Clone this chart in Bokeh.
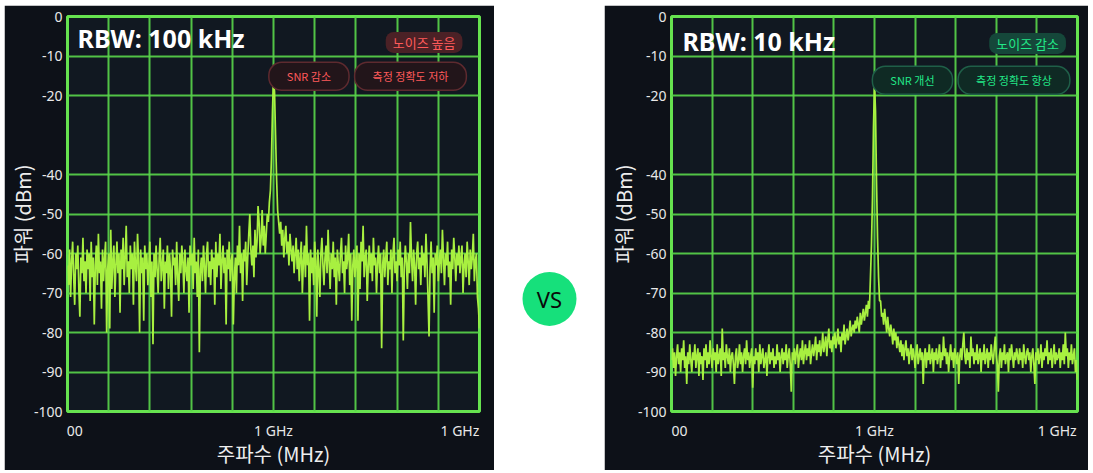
import numpy as np
from bokeh.plotting import figure
from bokeh.models import FixedTicker, Label, Spacer
from bokeh.layouts import row, column
from bokeh.embed import file_html
from bokeh.resources import INLINE

# ---------------- data ----------------
freq_mhz = np.round(np.linspace(990, 1010, 401), 3)

power_rbw100k = [
    -63, -68, -59, -71, -62, -57, -66, -73, -60, -64, -58, -69, -76, -61, -65, -56, -67, -62, -70, -59,
    -64, -60, -72, -57, -66, -61, -78, -63, -58, -68, -55, -65, -62, -74, -59, -67, -61, -57, -80, -64,
    -60, -79, -54, -69, -62, -58, -71, -63, -57, -65, -60, -75, -59, -64, -56, -68, -61, -53, -66, -62,
    -70, -58, -64, -60, -73, -57, -63, -67, -55, -62, -80, -59, -65, -61, -77, -58, -64, -60, -68, -63,
    -57, -71, -62, -83, -60, -66, -58, -64, -70, -61, -56, -67, -63, -59, -74, -62, -65, -58, -69, -60,
    -64, -76, -59, -63, -61, -68, -57, -66, -72, -60, -65, -58, -62, -70, -59, -64, -67, -61, -75, -58,
    -63, -60, -69, -56, -65, -62, -71, -59, -85, -64, -61, -67, -58, -63, -70, -60, -57, -66, -62, -68,
    -59, -64, -61, -73, -57, -66, -60, -63, -55, -69, -62, -58, -65, -61, -78, -59, -64, -57, -67, -62,
    -60, -78, -66, -61, -70, -58, -63, -53, -65, -60, -72, -59, -62, -57, -68, -61, -55, -50, -59, -63,
    -58, -66, -54, -61, -57, -48, -52, -60, -56, -49, -58, -53, -60, -55, -50, -52, -47, -44, -36, -24,
    -15.5,
    -19, -30, -41, -49, -52, -55, -52, -58, -54, -61, -56, -53, -60, -57, -63, -55, -59, -62, -58, -65,
    -60, -56, -64, -59, -67, -61, -57, -70, -62, -58, -66, -53, -63, -60, -77, -59, -65, -61, -68, -57,
    -62, -76, -59, -64, -71, -60, -56, -63, -68, -61, -58, -65, -54, -62, -69, -60, -64, -57, -66, -61,
    -73, -59, -63, -67, -60, -56, -65, -62, -70, -58, -64, -61, -55, -68, -60, -77, -63, -59, -66, -62,
    -58, -77, -60, -69, -57, -62, -53, -66, -61, -59, -72, -63, -58, -65, -60, -67, -56, -63, -61, -70,
    -62, -58, -65, -60, -84, -63, -59, -66, -61, -57, -68, -62, -64, -59, -70, -60, -56, -65, -62, -67,
    -59, -63, -57, -66, -61, -82, -64, -58, -62, -69, -60, -65, -52, -61, -67, -59, -63, -73, -60, -57,
    -64, -61, -68, -58, -63, -60, -66, -55, -62, -71, -81, -64, -57, -65, -61, -75, -60, -63, -58, -67,
    -62, -59, -65, -54, -61, -68, -60, -63, -57, -66, -62, -73, -59, -64, -56, -61, -67, -60, -63, -58,
    -65, -61, -58, -70, -63, -60, -66, -57, -62, -68, -59, -64, -61, -55, -67, -62, -60, -71, -74, -79,
]

power_rbw10k = [
    -87, -84, -89, -85, -91, -86, -83, -88, -85, -90, -84, -87, -82, -89, -86, -93, -85, -88, -83, -87,
    -90, -85, -87, -83, -89, -86, -84, -91, -85, -88, -86, -92, -84, -87, -83, -89, -85, -88, -82, -86,
    -89, -84, -87, -85, -90, -83, -88, -86, -84, -91, -79, -87, -85, -89, -83, -86, -88, -84, -90, -86,
    -85, -88, -93, -86, -84, -89, -87, -83, -88, -85, -90, -86, -84, -88, -82, -87, -85, -89, -86, -84,
    -94, -86, -88, -84, -87, -85, -90, -83, -88, -86, -84, -89, -87, -85, -91, -86, -83, -88, -85, -87,
    -84, -89, -86, -88, -83, -87, -85, -90, -86, -84, -88, -85, -87, -83, -89, -86, -84, -88, -95, -85,
    -87, -84, -88, -85, -83, -89, -86, -84, -87, -82, -88, -85, -83, -87, -84, -86, -82, -88, -85, -83,
    -86, -84, -81, -87, -83, -85, -82, -86, -84, -80, -85, -83, -81, -86, -82, -79, -84, -82, -85, -81,
    -83, -80, -84, -82, -79, -83, -81, -85, -80, -82, -78, -83, -81, -79, -82, -80, -77, -81, -79, -78,
    -80, -77, -79, -76, -78, -80, -75, -78, -76, -74, -77, -75, -73, -76, -72, -74, -66, -58, -46, -28,
    -17,
    -24, -42, -56, -66, -72, -72, -76, -75, -78, -74, -77, -80, -76, -79, -81, -78, -80, -83, -79, -82,
    -80, -84, -81, -83, -85, -82, -86, -83, -87, -84, -82, -86, -84, -88, -85, -83, -87, -84, -86, -89,
    -85, -83, -88, -86, -84, -87, -85, -93, -86, -84, -89, -85, -87, -83, -88, -86, -84, -90, -85, -87,
    -84, -88, -86, -83, -89, -85, -87, -81, -86, -84, -88, -85, -90, -86, -83, -87, -85, -89, -84, -86,
    -88, -85, -93, -86, -84, -87, -83, -80, -86, -88, -84, -87, -85, -89, -81, -86, -84, -88, -85, -87,
    -83, -88, -86, -84, -90, -85, -87, -83, -88, -86, -84, -89, -85, -87, -83, -86, -88, -84, -81, -86,
    -88, -95, -86, -84, -89, -85, -87, -83, -88, -86, -85, -90, -84, -87, -83, -86, -89, -85, -87, -84,
    -86, -88, -84, -87, -85, -89, -83, -86, -88, -85, -84, -87, -85, -90, -86, -84, -88, -93, -85, -87,
    -84, -88, -86, -83, -89, -85, -87, -84, -86, -82, -88, -85, -87, -84, -89, -86, -83, -88, -85, -87,
    -86, -84, -89, -85, -87, -83, -88, -80, -86, -84, -89, -85, -87, -83, -88, -86, -84, -90, -87, -92,
]

y_ticks = [0, -10, -20, -40, -50, -60, -70, -80, -90, -100]
x_grid = [990, 992, 994, 996, 998, 1000, 1002, 1004, 1006, 1008, 1010]
x_tick_labels = ["00", "1 GHz", "1 GHz"]

titles = ["RBW: 100 kHz", "RBW: 10 kHz"]
status_badges = ["노이즈 높음", "노이즈 감소"]
effect_badges = [["SNR 감소", "측정 정확도 저하"], ["SNR 개선", "측정 정확도 향상"]]
y_label = "파워 (dBm)"
x_label = "주파수 (MHz)"
vs_text = "VS"

# ---------------- style ----------------
LATIN = "Noto Sans"
KR = "Noto Sans CJK KR"
OUTER_BG = "#0d1118"
INNER_BG = "#111821"
GRID = "#58d24a"
FRAME = "#66e24f"
TRACE = "#a8f040"
TOP, BOTTOM = 11, 58


def make_panel(power, width, bl, br, x_ticks, ylab_standoff, title, status, effects,
               pos, palette):
    p = figure(width=width, height=465, x_range=(990, 1010), y_range=(-100, 0),
               output_backend="svg", toolbar_location=None,
               min_border_left=bl, min_border_right=br,
               min_border_top=TOP, min_border_bottom=BOTTOM)
    p.background_fill_color = INNER_BG
    p.border_fill_color = OUTER_BG
    p.outline_line_color = FRAME
    p.outline_line_width = 3

    # grid
    p.xgrid.ticker = FixedTicker(ticks=x_grid)
    p.ygrid.ticker = FixedTicker(ticks=y_ticks)
    for g in (p.xgrid[0], p.ygrid[0]):
        g.grid_line_color = GRID
        g.grid_line_width = 2
        g.grid_line_alpha = 0.92

    p.line(freq_mhz, power, line_color=TRACE, line_width=1.7)

    # axes
    p.yaxis.ticker = FixedTicker(ticks=y_ticks)
    p.yaxis.major_label_overrides = {t: str(t) for t in y_ticks}
    p.xaxis.ticker = FixedTicker(ticks=x_ticks)
    p.xaxis.major_label_overrides = {t: l for t, l in zip(x_ticks, x_tick_labels)}
    for ax in (p.xaxis[0], p.yaxis[0]):
        ax.axis_line_color = None
        ax.major_tick_line_color = None
        ax.minor_tick_line_color = None
        ax.major_tick_out = 0
        ax.major_tick_in = 0
        ax.minor_tick_out = 0
        ax.major_label_text_color = "#e8e8e8"
        ax.major_label_text_font = LATIN
        ax.major_label_text_font_size = "14px"
        ax.axis_label_text_color = "#eeeeee"
        ax.axis_label_text_font = KR
        ax.axis_label_text_font_style = "normal"
        ax.axis_label_text_font_size = "20px"
    p.yaxis.major_label_standoff = 5
    p.xaxis.major_label_standoff = 9
    p.yaxis.axis_label = y_label
    p.xaxis.axis_label = x_label
    p.yaxis.axis_label_standoff = ylab_standoff
    p.xaxis.axis_label_standoff = -4

    # title inside plot
    p.add_layout(Label(x=pos["title"][0], y=pos["title"][1], text=title,
                       text_font=LATIN, text_font_style="bold",
                       text_font_size="25px", text_color="#ffffff",
                       text_align="left", text_baseline="middle"))
    # status badge
    txt, bg, border, soft_bg = palette
    p.add_layout(Label(x=pos["status"][0], y=pos["status"][1], text=status,
                       text_font=KR, text_font_size="13px", text_color=txt,
                       text_align="center", text_baseline="middle",
                       background_fill_color=bg, background_fill_alpha=1.0,
                       border_radius=8, padding=(7, 1)))
    for (ex, ey), et in zip(pos["effects"], effects):
        p.add_layout(Label(x=ex, y=ey, text=et,
                           text_font=KR, text_font_size="11px", text_color=txt,
                           text_align="center", text_baseline="middle",
                           background_fill_color=soft_bg, background_fill_alpha=1.0,
                           border_line_color=border, border_line_width=1.5,
                           border_radius=13, padding=(18, 6)))
    return p


left = make_panel(power_rbw100k, 490, 63, 15, [990.35, 1000, 1009.05], -6,
                  titles[0], status_badges[0], effect_badges[0],
                  {"title": (990.49, -5.56), "status": (1007.31, -6.57),
                   "effects": [(1001.72, -15.15), (1006.65, -15.15)]},
                  ("#ff5a5a", "#4b2126", "#5e2a2f", "#22151a"))

right = make_panel(power_rbw10k, 484, 67, 11, [990.4, 1000, 1009.0], -3,
                   titles[1], status_badges[1], effect_badges[1],
                   {"title": (990.54, -6.31), "status": (1007.54, -6.82),
                    "effects": [(1001.87, -16.16), (1006.87, -16.16)]},
                   ("#22e888", "#15473a", "#1f5f48", "#0f2a24"))

# middle "VS" badge
mid = figure(width=110, height=465, x_range=(0, 1), y_range=(0, 1),
             output_backend="svg", toolbar_location=None,
             x_axis_location=None, y_axis_location=None,
             min_border_left=0, min_border_right=0,
             min_border_top=TOP, min_border_bottom=BOTTOM)
mid.grid.visible = False
mid.outline_line_color = None
mid.background_fill_color = "#ffffff"
mid.border_fill_color = "#ffffff"
mid.scatter([0.5], [0.285], size=54, marker="circle", fill_color="#16e07b",
            line_color=None)
mid.add_layout(Label(x=0.5, y=0.285, text=vs_text, text_font=LATIN,
                     text_font_size="22px", text_color="#0a0a0a",
                     text_align="center", text_baseline="middle"))

layout = column(Spacer(height=5), row(Spacer(width=4), left, mid, right))

open("out.html", "w").write(file_html(layout, INLINE))
